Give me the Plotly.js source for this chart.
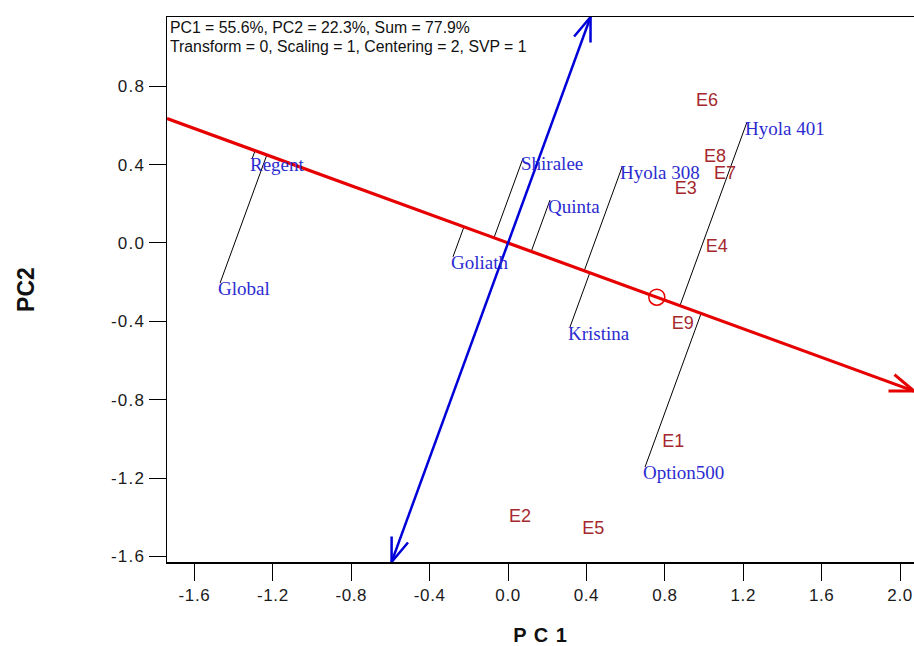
<!DOCTYPE html>
<html>
<head>
<meta charset="utf-8">
<script src="https://cdn.plot.ly/plotly-3.0.1.min.js"></script>
<style>
  html, body { margin: 0; padding: 0; background: #ffffff; }
  #chart { width: 914px; height: 646px; }
  .xtick text { letter-spacing: 0.6px; }
  .ytick text { letter-spacing: 1.2px; }
  .g-xtitle text { letter-spacing: 1px; }
</style>
</head>
<body>
<div id="chart"></div>
<script>
// ---- data ----
const genotypes = ['Regent', 'Global', 'Goliath', 'Shiralee', 'Quinta', 'Hyola 308', 'Hyola 401', 'Kristina', 'Option500'];
const genoPC1   = [-1.306, -1.469, -0.281, 0.077, 0.214, 0.582, 1.219, 0.316, 0.699];
const genoPC2   = [0.429, -0.204, -0.071, 0.434, 0.219, 0.388, 0.617, -0.429, -1.143];

const environments = ['E1', 'E2', 'E3', 'E4', 'E5', 'E6', 'E7', 'E8', 'E9'];
const envPC1 = [0.843, 0.061, 0.907, 1.065, 0.435, 1.015, 1.107, 1.056, 0.891];
const envPC2 = [-1.019, -1.399, 0.274, -0.024, -1.464, 0.721, 0.351, 0.435, -0.418];

// average environment (small circle on the AEC abscissa)
const avgEnvPC1 = 0.759;
const avgEnvPC2 = -0.277;

const xTickVals = [-1.6, -1.2, -0.8, -0.4, 0.0, 0.4, 0.8, 1.2, 1.6, 2.0];
const xTickText = ['-1.6', '-1.2', '-0.8', '-0.4', '0.0', '0.4', '0.8', '1.2', '1.6', '2.0'];
const yTickVals = [-1.6, -1.2, -0.8, -0.4, 0.0, 0.4, 0.8];
const yTickText = ['-1.6', '-1.2', '-0.8', '-0.4', '0.0', '0.4', '0.8'];

const infoLine1 = 'PC1 = 55.6%, PC2 = 22.3%, Sum = 77.9%';
const infoLine2 = 'Transform = 0, Scaling = 1, Centering = 2, SVP = 1';

// ---- axis window ----
const xRange = [-1.740, 2.071];
const yRange = [-1.628, 1.153];

// ---- geometry derived from the data ----
const aecLen = Math.hypot(avgEnvPC1, avgEnvPC2);
const d = [avgEnvPC1 / aecLen, avgEnvPC2 / aecLen];   // AEC abscissa direction
const slopeA = avgEnvPC2 / avgEnvPC1;
const slopeO = -avgEnvPC1 / avgEnvPC2;               // perpendicular (AEC ordinate)

const redX = [xRange[0], xRange[1]];
const redY = [xRange[0] * slopeA, xRange[1] * slopeA];
const blueX = [yRange[0] / slopeO, yRange[1] / slopeO];
const blueY = [yRange[0], yRange[1]];

function arrowHead(tip, from, len, angDeg) {
  const dx = tip[0] - from[0], dy = tip[1] - from[1];
  const n = Math.hypot(dx, dy);
  const ux = -dx / n, uy = -dy / n;
  const a = angDeg * Math.PI / 180;
  const b1 = [tip[0] + len * (ux * Math.cos(a) - uy * Math.sin(a)), tip[1] + len * (ux * Math.sin(a) + uy * Math.cos(a))];
  const b2 = [tip[0] + len * (ux * Math.cos(-a) - uy * Math.sin(-a)), tip[1] + len * (ux * Math.sin(-a) + uy * Math.cos(-a))];
  return { x: [b1[0], tip[0], b2[0]], y: [b1[1], tip[1], b2[1]] };
}

const headLen = 0.13;
const redHead = arrowHead([redX[1], redY[1]], [redX[0], redY[0]], headLen, 20);
const blueTop = arrowHead([blueX[1], blueY[1]], [blueX[0], blueY[0]], headLen, 20);
const blueBot = arrowHead([blueX[0], blueY[0]], [blueX[1], blueY[1]], headLen, 20);

// projection lines from each genotype onto the AEC abscissa
const projX = [], projY = [];
genotypes.forEach((g, i) => {
  const t = genoPC1[i] * d[0] + genoPC2[i] * d[1];
  projX.push(genoPC1[i], t * d[0], null);
  projY.push(genoPC2[i], t * d[1], null);
});

const RED = '#e60000';
const BLUE = '#0000d8';
const GENO = '#2c2cd0';
const ENV = '#a5282e';

const traces = [
  { x: projX, y: projY, mode: 'lines', line: { color: '#000000', width: 1 }, hoverinfo: 'skip', showlegend: false },
  { x: redX, y: redY, mode: 'lines', line: { color: RED, width: 3.2 }, showlegend: false, hoverinfo: 'skip' },
  { x: redHead.x, y: redHead.y, mode: 'lines', line: { color: RED, width: 3 }, showlegend: false, hoverinfo: 'skip' },
  { x: blueX, y: blueY, mode: 'lines', line: { color: BLUE, width: 2.5 }, showlegend: false, hoverinfo: 'skip' },
  { x: blueTop.x, y: blueTop.y, mode: 'lines', line: { color: BLUE, width: 2.5 }, showlegend: false, hoverinfo: 'skip' },
  { x: blueBot.x, y: blueBot.y, mode: 'lines', line: { color: BLUE, width: 2.5 }, showlegend: false, hoverinfo: 'skip' },
  { x: [avgEnvPC1], y: [avgEnvPC2], mode: 'markers', marker: { symbol: 'circle-open', size: 16, color: RED, line: { width: 1.5, color: RED } }, showlegend: false, hoverinfo: 'skip' },
  { x: envPC1, y: envPC2, text: environments, mode: 'text', textposition: 'middle center',
    textfont: { family: 'Arial, "Liberation Sans", sans-serif', size: 18, color: ENV }, showlegend: false, cliponaxis: false }
];

const annotations = genotypes.map((g, i) => ({
  x: genoPC1[i], y: genoPC2[i], xref: 'x', yref: 'y', text: g, showarrow: false,
  xanchor: 'left', yanchor: 'middle', xshift: -4, yshift: -6,
  font: { family: '"Times New Roman", "Liberation Serif", serif', size: 19, color: GENO }
}));
annotations.push(
  { x: 0, y: 1, xref: 'paper', yref: 'paper', xanchor: 'left', yanchor: 'top', xshift: 1, yshift: 0,
    text: infoLine1, showarrow: false, font: { family: 'Arial, "Liberation Sans", sans-serif', size: 15.8, color: '#111' } },
  { x: 0, y: 1, xref: 'paper', yref: 'paper', xanchor: 'left', yanchor: 'top', xshift: 1, yshift: -19,
    text: infoLine2, showarrow: false, font: { family: 'Arial, "Liberation Sans", sans-serif', size: 15.8, color: '#111' } }
);

const tickFont = { family: 'Arial, "Liberation Sans", sans-serif', size: 17, color: '#1a1a1a' };

const layout = {
  width: 914, height: 646,
  margin: { l: 167, r: 0, t: 17, b: 84 },
  paper_bgcolor: '#ffffff', plot_bgcolor: '#ffffff',
  showlegend: false,
  xaxis: {
    range: xRange, tickmode: 'array', tickvals: xTickVals, ticktext: xTickText,
    ticks: 'outside', ticklen: 17, tickwidth: 1, tickcolor: '#000',
    showline: true, linecolor: '#000', linewidth: 1.5, mirror: true,
    showgrid: false, zeroline: false, tickfont: tickFont, ticklabeloverflow: 'allow',
    title: { text: 'P C 1', font: { family: 'Arial, "Liberation Sans", sans-serif', size: 20, weight: 'bold', color: '#111' }, standoff: 26 }
  },
  yaxis: {
    range: yRange, tickmode: 'array', tickvals: yTickVals, ticktext: yTickText,
    ticks: 'outside', ticklen: 17, tickwidth: 1, tickcolor: '#000',
    showline: true, linecolor: '#000', linewidth: 1.5, mirror: false,
    showgrid: false, zeroline: false, tickfont: tickFont, ticklabeloverflow: 'allow',
    title: { text: 'PC2', font: { family: 'Arial, "Liberation Sans", sans-serif', size: 23, weight: 'bold', color: '#111' }, standoff: 70 }
  },
  annotations: annotations
};

Plotly.newPlot('chart', traces, layout, { displayModeBar: false, staticPlot: true });
</script>
</body>
</html>
